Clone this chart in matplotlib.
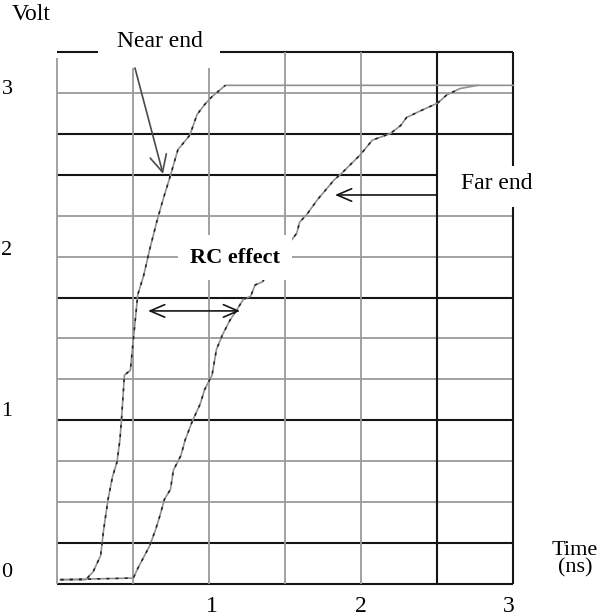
import numpy as np
import matplotlib
matplotlib.use("Agg")
import matplotlib.pyplot as plt

plt.rcParams['font.family'] = ['Liberation Serif', 'DejaVu Serif']

# near end and far end waveforms (time in ns, voltage in V)
near_t = [-0.02, 0.15, 0.20, 0.25, 0.27, 0.30, 0.33, 0.36, 0.38, 0.39, 0.41, 0.45, 0.47,
          0.50, 0.54, 0.58, 0.63, 0.67, 0.72, 0.77, 0.85, 0.90, 0.95, 1.00, 1.09, 3.03]
near_v = [-0.06, -0.06, -0.01, 0.09, 0.25, 0.44, 0.58, 0.67, 0.81, 0.93, 1.21, 1.24, 1.43,
          1.71, 1.83, 1.99, 2.17, 2.30, 2.45, 2.61, 2.70, 2.83, 2.89, 2.94, 3.01, 3.01]

far_t = [-0.02, 0.47, 0.50, 0.54, 0.58, 0.62, 0.65, 0.68, 0.72, 0.74, 0.79, 0.82, 0.87,
         0.92, 0.95, 1.00, 1.03, 1.07, 1.12, 1.17, 1.21, 1.26, 1.29, 1.34, 1.46, 1.57,
         1.59, 1.64, 1.71, 1.82, 1.88, 2.00, 2.08, 2.20, 2.27, 2.31, 2.40, 2.52, 2.58,
         2.67, 2.79]
far_v = [-0.06, -0.05, 0.01, 0.08, 0.15, 0.25, 0.34, 0.44, 0.50, 0.62, 0.71, 0.81, 0.93,
         1.03, 1.12, 1.21, 1.37, 1.46, 1.55, 1.62, 1.68, 1.70, 1.77, 1.79, 1.96, 2.09,
         2.16, 2.21, 2.30, 2.42, 2.47, 2.58, 2.67, 2.71, 2.76, 2.81, 2.85, 2.90, 2.95,
         2.99, 3.01]

x_ticks = [1, 2, 3]
y_ticks = [0, 1, 2, 3]

##################
##Graticule size##
##################
T0, T1 = -0.044, 3.027
V0, V1 = -0.087, 3.217
tdiv = (T1 - T0) / 6
vdiv = (V1 - V0) / 13
gx = [T0 + k * tdiv for k in range(7)]
gy = [V0 + k * vdiv for k in range(14)]

GRAY = '#9a9a9a'
DARK = '#151515'

fig = plt.figure(figsize=(6.01, 6.16), dpi=100)
ax = fig.add_axes([57 / 601, 32 / 616, 456 / 601, 532 / 616])
ax.set_xlim(T0, T1)
ax.set_ylim(V0, V1)
for s in ax.spines.values():
    s.set_visible(False)

# horizontal graticule
black_rows = [0, 1, 4, 7, 11]
gray_rows = [2, 3, 5, 6, 8, 9, 12]
for k in black_rows:
    ax.hlines(gy[k], T0, T1, color=DARK, lw=1.5, clip_on=False, zorder=1)
for k in gray_rows:
    ax.hlines(gy[k], T0, T1, color=GRAY, lw=1.3, clip_on=False, zorder=1)
ax.hlines(gy[10], T0, gx[5], color=DARK, lw=1.5, clip_on=False, zorder=1)
ax.hlines(gy[13], T0, 0.232, color=DARK, lw=1.5, clip_on=False, zorder=1)
ax.hlines(gy[13], 1.054, T1, color=DARK, lw=1.5, clip_on=False, zorder=1)

# vertical graticule
ax.vlines(gx[0], V0, 3.18, color=GRAY, lw=1.3, clip_on=False, zorder=1)
ax.vlines(gx[1], V0, 3.118, color=GRAY, lw=1.3, clip_on=False, zorder=1)
ax.vlines(gx[2], V0, 3.118, color=GRAY, lw=1.3, clip_on=False, zorder=1)
ax.vlines(gx[3], V0, V1, color=GRAY, lw=1.3, clip_on=False, zorder=1)
ax.vlines(gx[4], V0, V1, color=GRAY, lw=1.3, clip_on=False, zorder=1)
ax.vlines(gx[5], V0, V1, color=DARK, lw=1.5, clip_on=False, zorder=1)
ax.vlines(gx[6], V0, 2.255, color=DARK, lw=1.5, clip_on=False, zorder=1)
ax.vlines(gx[6], 2.509, V1, color=DARK, lw=1.5, clip_on=False, zorder=1)

# traces: gray line with darker dashes, like the scanned scope trace
for tt, vv in [(near_t, near_v), (far_t, far_v)]:
    ax.plot(tt, vv, color='#909090', lw=1.2, zorder=2, clip_on=False)
    ax.plot(tt[:-1], vv[:-1], color='#202020', lw=1.1, dashes=(2, 4), zorder=2, clip_on=False)

# annotations
arrow = dict(arrowstyle='->,head_length=0.7,head_width=0.3', color=DARK, lw=1.2,
             mutation_scale=15, shrinkA=0, shrinkB=0)
ax.annotate('', xy=(0.670, 2.46), xytext=(0.481, 3.118),
            arrowprops=dict(arrow, color='#4a4a4a', arrowstyle='->,head_length=0.8,head_width=0.4'),
            annotation_clip=False)
ax.annotate('', xy=(1.828, 2.329), xytext=(2.508, 2.329), arrowprops=arrow, annotation_clip=False)
ax.annotate('', xy=(0.569, 1.609), xytext=(1.189, 1.609),
            arrowprops=dict(arrow, arrowstyle='<->,head_length=0.7,head_width=0.3'))

ax.text(0.65, 3.28, 'Near end', fontsize=17, ha='center', va='center', zorder=5)
ax.text(2.92, 2.40, 'Far end', fontsize=17, ha='center', va='center', zorder=5)
ax.text(1.155, 1.94, 'RC effect', fontsize=16, fontweight='bold', ha='center', va='center',
        zorder=5, bbox=dict(boxstyle='square,pad=0.55', fc='white', ec='none'))

# axis labels
ax.set_xticks(x_ticks)
ax.set_yticks(y_ticks)
ax.set_xticklabels([str(v) for v in x_ticks], fontsize=17)
ax.set_yticklabels([str(v) for v in y_ticks], fontsize=16)
ax.tick_params(axis='x', length=0, pad=9)
ax.tick_params(axis='y', length=0, pad=32)
fig.text(31 / 601, 1 - 15 / 616, 'Volt', fontsize=17, ha='center', va='center')
fig.text(575 / 601, 1 - 559 / 616, 'Time\n(ns)', fontsize=16, ha='center', va='center',
         linespacing=0.85)

plt.savefig('out.png', dpi=100)
